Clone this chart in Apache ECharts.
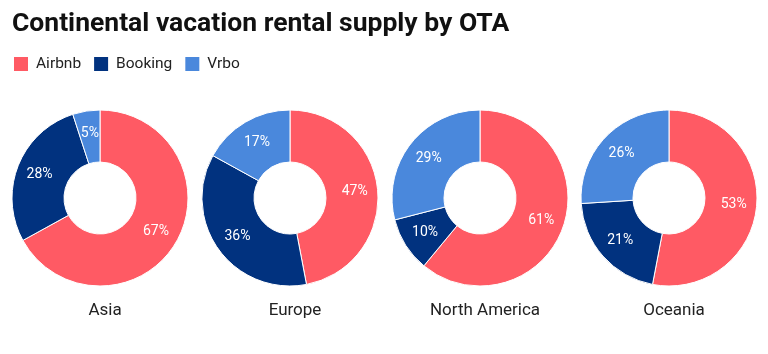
<!DOCTYPE html>
<html>
<head>
<meta charset="utf-8">
<script src="https://cdn.jsdelivr.net/npm/echarts@6/dist/echarts.min.js"></script>
<style>
  html, body { margin: 0; padding: 0; background: #fff; }
  #chart { width: 768px; height: 354px; }
</style>
</head>
<body>
<div id="chart"></div>
<script>
// data
var otas = ['Airbnb', 'Booking', 'Vrbo'];
var continents = ['Asia', 'Europe', 'North America', 'Oceania'];
var airbnb = [67, 47, 61, 53];
var booking = [28, 36, 10, 21];
var vrbo = [5, 17, 29, 26];

var colors = ['#ff5a64', '#01327f', '#4a88dc'];
var centersX = [100, 290, 480, 669];

var chart = echarts.init(document.getElementById('chart'));

var titles = [{
  text: 'Continental vacation rental supply by OTA',
  left: 7,
  top: 6,
  textStyle: { fontFamily: 'Roboto', fontSize: 26.5, fontWeight: 'bold', color: '#111' }
}];
var series = [];
continents.forEach(function (name, i) {
  titles.push({
    text: name,
    left: centersX[i],
    top: 297,
    textAlign: 'center',
    textStyle: { fontFamily: 'Roboto', fontSize: 17, fontWeight: 'normal', color: '#222' }
  });
  series.push({
    type: 'pie',
    name: name,
    center: [centersX[i], 198],
    radius: [36, 88],
    startAngle: 90,
    clockwise: true,
    avoidLabelOverlap: false,
    itemStyle: { borderColor: '#fff', borderWidth: 1 },
    label: {
      show: true,
      position: 'inside',
      formatter: '{c}%',
      color: '#fff',
      fontFamily: 'Roboto',
      fontSize: 14
    },
    labelLine: { show: false },
    emphasis: { disabled: true },
    data: [
      { name: otas[0], value: airbnb[i] },
      { name: otas[1], value: booking[i] },
      { name: otas[2], value: vrbo[i] }
    ]
  });
});

var option = {
  animation: false,
  color: colors,
  title: titles,
  legend: {
    data: otas,
    left: 7,
    top: 50,
    icon: 'rect',
    itemWidth: 16,
    itemHeight: 16,
    itemGap: 11,
    textStyle: { fontFamily: 'Roboto', fontSize: 15.5, color: '#222', padding: [0, 0, 0, 2] }
  },
  series: series
};

chart.setOption(option);
</script>
</body>
</html>
